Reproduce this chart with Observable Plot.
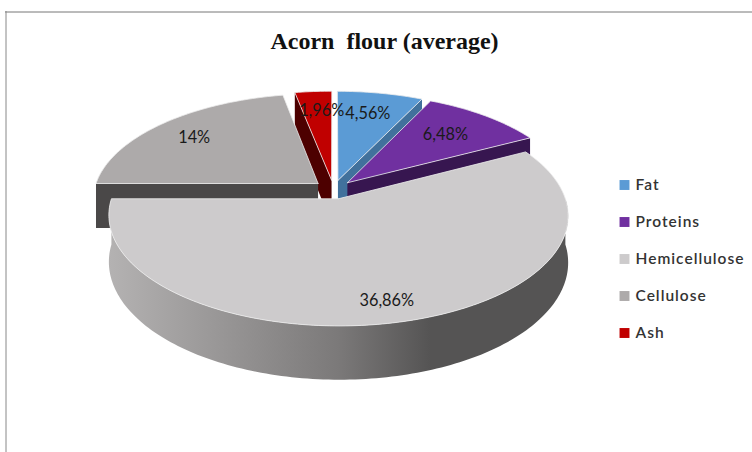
<!DOCTYPE html>
<html>
<head>
<meta charset="utf-8">
<script src="https://cdn.jsdelivr.net/npm/d3@7"></script>
<script src="https://cdn.jsdelivr.net/npm/@observablehq/plot@0.6"></script>
<style>
html,body{margin:0;padding:0;background:#fff;overflow:hidden}
svg{display:block}
.legend-text text{letter-spacing:1px}
</style>
</head>
<body>
<div id="chart"></div>
<script>
const categories = ["Fat", "Proteins", "Hemicellulose", "Cellulose", "Ash"];
const values = [4.56, 6.48, 36.86, 14, 1.96];
const labels = ["4,56%", "6,48%", "36,86%", "14%", "1,96%"];
const faceColors = ["#5b9bd5", "#7030a0", "#cdcbcc", "#adaaaa", "#c00000"];
const wallColors = ["#41719c", "#371650", "url(#hemiWall)", "#4a4848", "#4d0000"];
const labelRadius = [0.74, 0.69, 0.85, 0.77, 0.76];
const labelTurn = [-1, 0, 1.4, -1, 1.7];
const title = "Acorn  flour (average)";

// 3D view of the pie
const view = {cx: 333, cy: 189, R: 224, S: 105, p: 0.15, depth: 45, explode: 0.09};
const W = 752, H = 452;

const arcs = d3.pie().sort(null).value(d => d)(values);

function project(u, v, lowered = false) {
  const w = 1 + view.p * v;
  return {
    x: view.cx + view.R * u / w,
    y: view.cy - view.S * v / w + (lowered ? view.depth / w : 0)
  };
}
function pointOf(arc, angle, rho, lowered) {
  const mid = (arc.startAngle + arc.endAngle) / 2;
  const u = rho * Math.sin(angle) + view.explode * Math.sin(mid);
  const v = rho * Math.cos(angle) + view.explode * Math.cos(mid);
  return project(u, v, lowered);
}
function arcAngles(a0, a1) {
  const n = Math.max(2, Math.ceil((a1 - a0) / 0.02));
  return d3.range(n + 1).map(i => a0 + (a1 - a0) * i / n);
}

function faceMark(arc, i) {
  const pts = [pointOf(arc, 0, 0)];
  for (const a of arcAngles(arc.startAngle, arc.endAngle)) pts.push(pointOf(arc, a, 1));
  pts.push(pts[0]);
  return Plot.line(pts, {x: "x", y: "y", fill: faceColors[i], stroke: "#ececec", strokeWidth: 0.8, curve: "linear"});
}
function radialWall(arc, angle, i) {
  const pts = [
    pointOf(arc, 0, 0), pointOf(arc, angle, 1),
    pointOf(arc, angle, 1, true), pointOf(arc, 0, 0, true)
  ];
  return Plot.line(pts, {x: "x", y: "y", fill: wallColors[i], stroke: "none", curve: "linear"});
}
function outerWall(arc, i) {
  const a0 = Math.max(arc.startAngle, Math.PI / 2), a1 = Math.min(arc.endAngle, 1.5 * Math.PI);
  if (a1 <= a0) return null;
  const as = arcAngles(a0, a1);
  const pts = as.map(a => pointOf(arc, a, 1)).concat(as.slice().reverse().map(a => pointOf(arc, a, 1, true)));
  return Plot.line(pts, {x: "x", y: "y", fill: wallColors[i], stroke: "none", curve: "linear"});
}
function sliceMarks(i) {
  const arc = arcs[i], m = [];
  if (Math.sin(arc.startAngle) < -1e-6) m.push(radialWall(arc, arc.startAngle, i));
  if (Math.sin(arc.endAngle) > 1e-6) m.push(radialWall(arc, arc.endAngle, i));
  const o = outerWall(arc, i);
  if (o) m.push(o);
  m.push(faceMark(arc, i));
  return m;
}

const gradient = () => {
  const ns = "http://www.w3.org/2000/svg";
  const defs = document.createElementNS(ns, "defs");
  const g = document.createElementNS(ns, "linearGradient");
  g.setAttribute("id", "hemiWall");
  g.setAttribute("x1", "0"); g.setAttribute("x2", "1");
  g.setAttribute("y1", "0"); g.setAttribute("y2", "0");
  [["0%", "#b4b2b2"], ["50%", "#7b7979"], ["70%", "#555454"], ["100%", "#555454"]].forEach(([o, c]) => {
    const s = document.createElementNS(ns, "stop");
    s.setAttribute("offset", o); s.setAttribute("stop-color", c);
    g.appendChild(s);
  });
  defs.appendChild(g);
  return defs;
};

const labelData = arcs.map((arc, i) => ({
  ...pointOf(arc, (arc.startAngle + arc.endAngle) / 2 + labelTurn[i] * Math.PI / 180, labelRadius[i]),
  text: labels[i]
}));
const legendData = categories.map((name, i) => ({name, color: faceColors[i], x: 624, y: 184.5 + 37 * i}));

const plot = Plot.plot({
  width: W, height: H,
  margin: 0,
  x: {domain: [0, W], range: [0, W], axis: null},
  y: {domain: [0, H], range: [0, H], axis: null},
  color: {type: "identity"},
  style: {background: "#fff", overflow: "hidden"},
  marks: [
    gradient,
    Plot.ruleY([11.5], {x1: 5, x2: W, stroke: "#777", strokeWidth: 1}),
    Plot.ruleX([5.5], {y1: 11, y2: H, stroke: "#888", strokeWidth: 1}),
    ...[4, 3, 0, 1, 2].flatMap(sliceMarks),
    Plot.text(labelData, {x: "x", y: "y", text: "text", fill: "#1a1a1a", fontFamily: "Lato", fontSize: 16.3}),
    Plot.text([title], {x: [384], y: [41], text: d => d, fontFamily: "Liberation Serif", fontWeight: "bold", fontSize: 24, fill: "#111"}),
    Plot.dot(legendData, {x: "x", y: "y", fill: "color", symbol: "square", r: 5.6}),
    Plot.text(legendData, {x: d => d.x + 11, y: "y", text: "name", textAnchor: "start", fontFamily: "Lato", fontWeight: 600, fontSize: 15.5, fill: "#333", className: "legend-text"})
  ]
});
document.getElementById("chart").appendChild(plot);
</script>
</body>
</html>
